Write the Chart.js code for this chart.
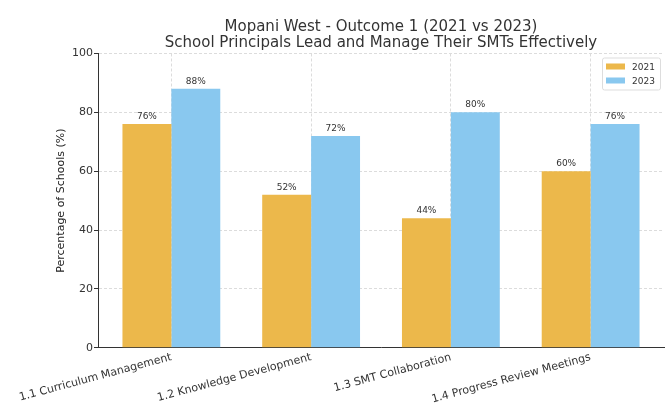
<!DOCTYPE html>
<html>
<head>
<meta charset="utf-8">
<script src="https://cdn.jsdelivr.net/npm/chart.js@4"></script>
<style>
  html, body { margin: 0; padding: 0; background: #fff; }
  #wrap { width: 671px; height: 411px; }
</style>
</head>
<body>
<div id="wrap"><canvas id="myChart" width="671" height="411"></canvas></div>
<script>
const categories = ['1.1 Curriculum Management', '1.2 Knowledge Development', '1.3 SMT Collaboration', '1.4 Progress Review Meetings'];
const values2021 = [76, 52, 44, 60];
const values2023 = [88, 72, 80, 76];
const yTicks = [0, 20, 40, 60, 80, 100];

const FONT = 'DejaVu Sans';
const ORANGE = '#ecb84b';
const BLUE = '#89c8ef';

const toPoints = vals => vals.map((v, i) => ({ x: i, y: v }));

// value labels above each bar
const barLabels = {
    id: 'barLabels',
    afterDatasetsDraw(chart) {
        const c = chart.ctx;
        c.save();
        c.font = '9px "' + FONT + '"';
        c.fillStyle = '#333';
        c.textAlign = 'center';
        c.textBaseline = 'bottom';
        chart.data.datasets.forEach((ds, i) => {
            chart.getDatasetMeta(i).data.forEach((bar, j) => {
                c.fillText(ds.data[j].y + '%', bar.x, bar.y - 3);
            });
        });
        c.restore();
    }
};

// matplotlib-like legend inside the plot, top right
const innerLegend = {
    id: 'innerLegend',
    afterDraw(chart) {
        const c = chart.ctx;
        const a = chart.chartArea;
        const w = 58, h = 32;
        const x = a.right - w - 4, y = a.top + 4;
        c.save();
        c.fillStyle = 'rgba(255,255,255,0.8)';
        c.strokeStyle = '#dddddd';
        c.lineWidth = 1;
        c.beginPath();
        c.roundRect(x + 0.5, y + 0.5, w, h, 2);
        c.fill();
        c.stroke();
        c.font = '9px "' + FONT + '"';
        c.textBaseline = 'middle';
        chart.data.datasets.forEach((ds, i) => {
            const ly = y + 9 + i * 14;
            c.fillStyle = ds.backgroundColor;
            c.fillRect(x + 4, ly - 3, 19, 6);
            c.fillStyle = '#333';
            c.fillText(ds.label, x + 30, ly + 1);
        });
        c.restore();
    }
};

new Chart(document.getElementById('myChart'), {
    type: 'bar',
    data: {
        datasets: [
            { label: '2021', data: toPoints(values2021), backgroundColor: ORANGE, categoryPercentage: 0.7, barPercentage: 1.0 },
            { label: '2023', data: toPoints(values2023), backgroundColor: BLUE, categoryPercentage: 0.7, barPercentage: 1.0 }
        ]
    },
    options: {
        responsive: false,
        animation: false,
        layout: { padding: { left: 50, right: 7, top: 6, bottom: 2 } },
        scales: {
            x: {
                type: 'linear',
                min: -0.525, max: 3.525,
                offset: false,
                afterBuildTicks(axis) { axis.ticks = categories.map((_, i) => ({ value: i })); },
                grid: { offset: false, color: '#dcdcdc', drawTicks: false },
                border: { display: true, color: '#333', width: 1, dash: [3, 2] },
                ticks: {
                    color: '#333', font: { family: FONT, size: 11 }, maxRotation: 15, minRotation: 15, padding: 3,
                    callback: v => categories[v]
                }
            },
            y: {
                min: 0, max: 100,
                afterBuildTicks(axis) { axis.ticks = yTicks.map(v => ({ value: v })); },
                afterFit(axis) { axis.width = 48; },
                grid: { color: '#dcdcdc', tickLength: 4, tickColor: '#333' },
                border: { display: true, color: '#333', width: 1, dash: [3, 2] },
                ticks: { color: '#333', font: { family: FONT, size: 11 }, padding: 1 },
                title: { display: true, text: 'Percentage of Schools (%)', color: '#222', font: { family: FONT, size: 11 }, padding: { top: 5, bottom: 0 } }
            }
        },
        plugins: {
            legend: { display: false },
            tooltip: { enabled: false },
            title: {
                display: true,
                fullSize: false,
                text: ['Mopani West - Outcome 1 (2021 vs 2023)', 'School Principals Lead and Manage Their SMTs Effectively'],
                color: '#333',
                font: { family: FONT, size: 15, weight: 'normal', lineHeight: 1.05 },
                padding: { top: 13, bottom: 3 }
            }
        }
    },
    plugins: [barLabels, innerLegend]
});
</script>
</body>
</html>
